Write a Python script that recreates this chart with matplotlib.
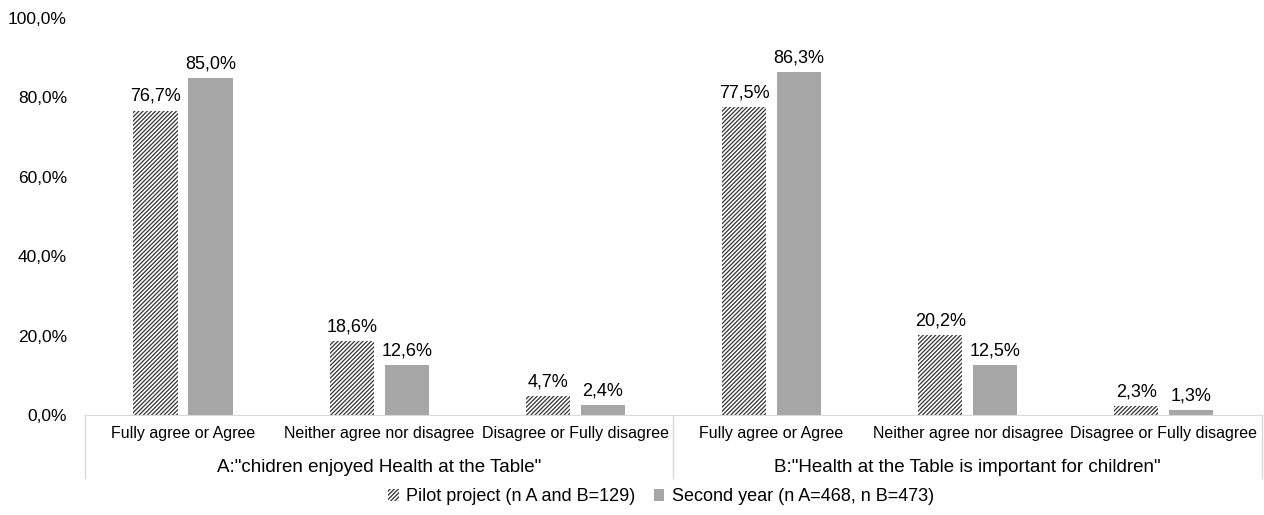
import numpy as np
import matplotlib.pyplot as plt
from matplotlib.patches import Patch

plt.rcParams['font.family'] = ['Liberation Sans', 'DejaVu Sans']
plt.rcParams['hatch.linewidth'] = 0.9

# Data
answers = ['Fully agree or Agree', 'Neither agree nor disagree', 'Disagree or Fully disagree']
questions = ['A:"chidren enjoyed Health at the Table"',
             'B:"Health at the Table is important for children"']
pilot = [76.7, 18.6, 4.7, 77.5, 20.2, 2.3]
second = [85.0, 12.6, 2.4, 86.3, 12.5, 1.3]
pilot_label = 'Pilot project (n A and B=129)'
second_label = 'Second year (n A=468, n B=473)'

def pct(v):
    return f'{v:.1f}%'.replace('.', ',')

fig = plt.figure(figsize=(12.64, 5.15), dpi=100)
ax = fig.add_axes([0.0672, 0.1942, 0.9312, 0.7708])

x = np.arange(len(pilot))
w = 0.225
off = 0.14

b1 = ax.bar(x - off, pilot, w, color='white', edgecolor='#333333',
            hatch='////////', linewidth=0)
b2 = ax.bar(x + off, second, w, color='#a6a6a6', linewidth=0)

for bars, vals in ((b1, pilot), (b2, second)):
    for r, v in zip(bars, vals):
        ax.annotate(pct(v), (r.get_x() + r.get_width() / 2, v),
                    xytext=(0, 4), textcoords='offset points',
                    ha='center', va='bottom', fontsize=13)

ax.set_xlim(-0.5, len(pilot) - 0.5)
ax.set_ylim(0, 100)
ax.set_yticks(np.arange(0, 101, 20))
ax.set_yticklabels([pct(v) for v in np.arange(0, 101, 20)], fontsize=12.5)
ax.tick_params(axis='y', length=0, pad=13)
ax.tick_params(axis='x', length=0, pad=8)
ax.set_xticks(x)
ax.set_xticklabels(answers * 2, fontsize=11.5)

for s in ('top', 'right', 'left'):
    ax.spines[s].set_visible(False)
ax.spines['bottom'].set_color('#d9d9d9')

# group labels and separators
tr = ax.get_xaxis_transform()
for i, q in enumerate(questions):
    ax.text(i * 3 + 1, -0.1335, q, transform=tr, ha='center', va='center',
            fontsize=13.5)
for xs in (-0.5, 2.5, 5.5):
    ax.plot([xs, xs], [0, -0.159], transform=tr, color='#d9d9d9',
            lw=1, clip_on=False)

handles = [Patch(facecolor='white', edgecolor='#333333', hatch='////////', linewidth=0),
           Patch(facecolor='#a6a6a6', linewidth=0)]
fig.legend(handles, [pilot_label, second_label], loc='center',
           bbox_to_anchor=(0.523, 0.035), ncol=2, frameon=False, fontsize=13,
           handlelength=0.6, handleheight=0.6, handletextpad=0.4,
           columnspacing=1.0)

fig.savefig('out.png', dpi=100)
